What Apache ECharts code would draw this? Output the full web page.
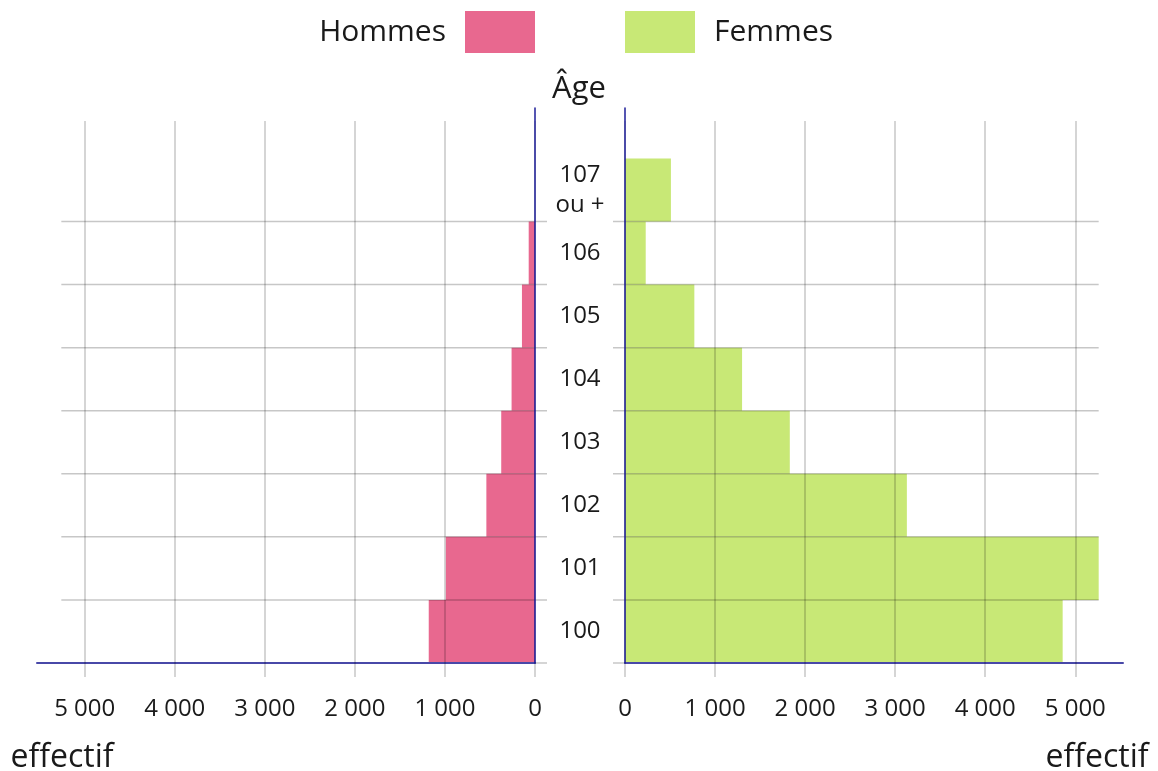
<!DOCTYPE html>
<html>
<head>
<meta charset="utf-8">
<script src="https://cdn.jsdelivr.net/npm/echarts@6/dist/echarts.min.js"></script>
<style>
  html, body { margin: 0; padding: 0; background: #fff; }
  #main { width: 1158px; height: 771px; }
</style>
</head>
<body>
<div id="main"></div>
<script>
const ages = [100, 101, 102, 103, 104, 105, 106, 107];
const ageLabels = ["100", "101", "102", "103", "104", "105", "106", "107\nou +"];
const hommes = [1180, 990, 540, 375, 260, 145, 70, 0];
const femmes = [4860, 5260, 3130, 1830, 1300, 770, 230, 510];
const xTicks = [0, 1000, 2000, 3000, 4000, 5000];

const FONT = "Open Sans";
const TEXT = "#1a1a1a";
const GRID_LINE = "rgba(0,0,0,0.22)";
const lineEnd = Math.max(...hommes, ...femmes);
const xMax = 5530;

const fmt = (v) => String(v).replace(/\B(?=(\d{3})+(?!\d))/g, " ");

function barItem(params, api) {
  const age = api.value(1);
  const p0 = api.coord([0, age - 0.5]);
  const p1 = api.coord([api.value(0), age + 0.5]);
  return {
    type: "rect",
    shape: {
      x: Math.min(p0[0], p1[0]),
      y: p1[1],
      width: Math.abs(p1[0] - p0[0]),
      height: p0[1] - p1[1],
    },
    style: { fill: api.visual("color") },
  };
}

// row separators, running from the largest value to just past the 0 axis
function rowLine(params, api) {
  const y = api.value(1) - 0.5;
  const far = api.coord([api.value(0), y]);
  const zero = api.coord([0, y]);
  const dir = Math.sign(zero[0] - far[0]);
  return {
    type: "line",
    shape: { x1: far[0], y1: far[1], x2: zero[0] + dir * 12, y2: zero[1] },
    style: { stroke: GRID_LINE, lineWidth: 1.5 },
  };
}

function xAxes(gridIndex, inverse) {
  const base = {
    gridIndex,
    type: "value",
    position: "bottom",
    inverse,
    min: 0,
    max: xMax,
    splitLine: { show: false },
    z: 4,
  };
  return [
    {
      ...base,
      name: "effectif",
      nameLocation: "end",
      nameGap: inverse ? -25 : -26,
      nameMoveOverlap: false,
      nameTextStyle: {
        fontFamily: FONT,
        fontSize: 32,
        color: TEXT,
        align: "center",
        verticalAlign: "top",
        lineHeight: 190,
      },
      axisLine: { onZero: false, lineStyle: { color: "#4848a8", width: 2 } },
      axisTick: {
        length: 14,
        customValues: xTicks,
        lineStyle: { color: GRID_LINE, width: 1.5 },
      },
      axisLabel: {
        customValues: xTicks,
        margin: 34,
        fontFamily: FONT,
        fontSize: 24,
        color: TEXT,
        formatter: fmt,
      },
    },
    {
      ...base,
      axisLine: { show: false, onZero: false },
      axisTick: {
        inside: true,
        length: 542,
        customValues: xTicks,
        lineStyle: { color: GRID_LINE, width: 1.5 },
      },
      axisLabel: { show: false },
    },
  ];
}

const yBase = {
  type: "value",
  min: 99.5,
  max: 108.3,
  splitLine: { show: false },
  axisTick: { show: false },
  z: 5,
};

const legendText = (pad) => ({
  fontFamily: FONT,
  fontSize: 30,
  color: TEXT,
  padding: pad,
});

const chart = echarts.init(document.getElementById("main"));
chart.setOption({
  animation: false,
  textStyle: { fontFamily: FONT },
  grid: [
    { left: 37, right: 623, top: 108, bottom: 108, containLabel: false, outerBoundsMode: "none" },
    { left: 625, right: 35, top: 108, bottom: 108, containLabel: false, outerBoundsMode: "none" },
  ],
  legend: [
    {
      data: ["Hommes"],
      right: 623,
      top: 11,
      padding: 0,
      align: "right",
      icon: "rect",
      itemWidth: 70,
      itemHeight: 42,
      selectedMode: false,
      textStyle: legendText([0, 14, 0, 0]),
    },
    {
      data: ["Femmes"],
      left: 625,
      top: 11,
      padding: 0,
      align: "left",
      icon: "rect",
      itemWidth: 70,
      itemHeight: 42,
      selectedMode: false,
      textStyle: legendText([0, 0, 0, 14]),
    },
  ],
  xAxis: [...xAxes(0, true), ...xAxes(1, false)],
  yAxis: [
    {
      ...yBase,
      gridIndex: 0,
      position: "right",
      axisLine: { onZero: false, lineStyle: { color: "#1c1c99", width: 1.5 } },
      axisLabel: { show: false },
    },
    {
      ...yBase,
      gridIndex: 1,
      position: "left",
      name: "Âge",
      nameLocation: "end",
      nameGap: 19,
      nameTextStyle: {
        fontFamily: FONT,
        fontSize: 31,
        color: TEXT,
        align: "center",
        verticalAlign: "middle",
        padding: [0, 92, 0, 0],
      },
      axisLine: { onZero: false, lineStyle: { color: "#1c1c99", width: 1.5 } },
      axisLabel: {
        customValues: ages,
        margin: 45,
        align: "center",
        fontFamily: FONT,
        fontSize: 24,
        lineHeight: 30,
        color: TEXT,
        formatter: (v) => ageLabels[ages.indexOf(v)] || "",
      },
    },
  ],
  series: [
    {
      name: "Hommes",
      type: "custom",
      xAxisIndex: 0,
      yAxisIndex: 0,
      renderItem: barItem,
      itemStyle: { color: "#e8688f" },
      encode: { x: 0, y: 1 },
      data: ages.map((a, i) => [hommes[i], a]),
      z: 2,
    },
    {
      name: "Femmes",
      type: "custom",
      xAxisIndex: 2,
      yAxisIndex: 1,
      renderItem: barItem,
      itemStyle: { color: "#c8e876" },
      encode: { x: 0, y: 1 },
      data: ages.map((a, i) => [femmes[i], a]),
      z: 2,
    },
    {
      type: "custom",
      xAxisIndex: 0,
      yAxisIndex: 0,
      renderItem: rowLine,
      encode: { x: 0, y: 1 },
      data: ages.map((a) => [lineEnd, a]),
      silent: true,
      z: 3,
    },
    {
      type: "custom",
      xAxisIndex: 2,
      yAxisIndex: 1,
      renderItem: rowLine,
      encode: { x: 0, y: 1 },
      data: ages.map((a) => [lineEnd, a]),
      silent: true,
      z: 3,
    },
  ],
});
</script>
</body>
</html>
